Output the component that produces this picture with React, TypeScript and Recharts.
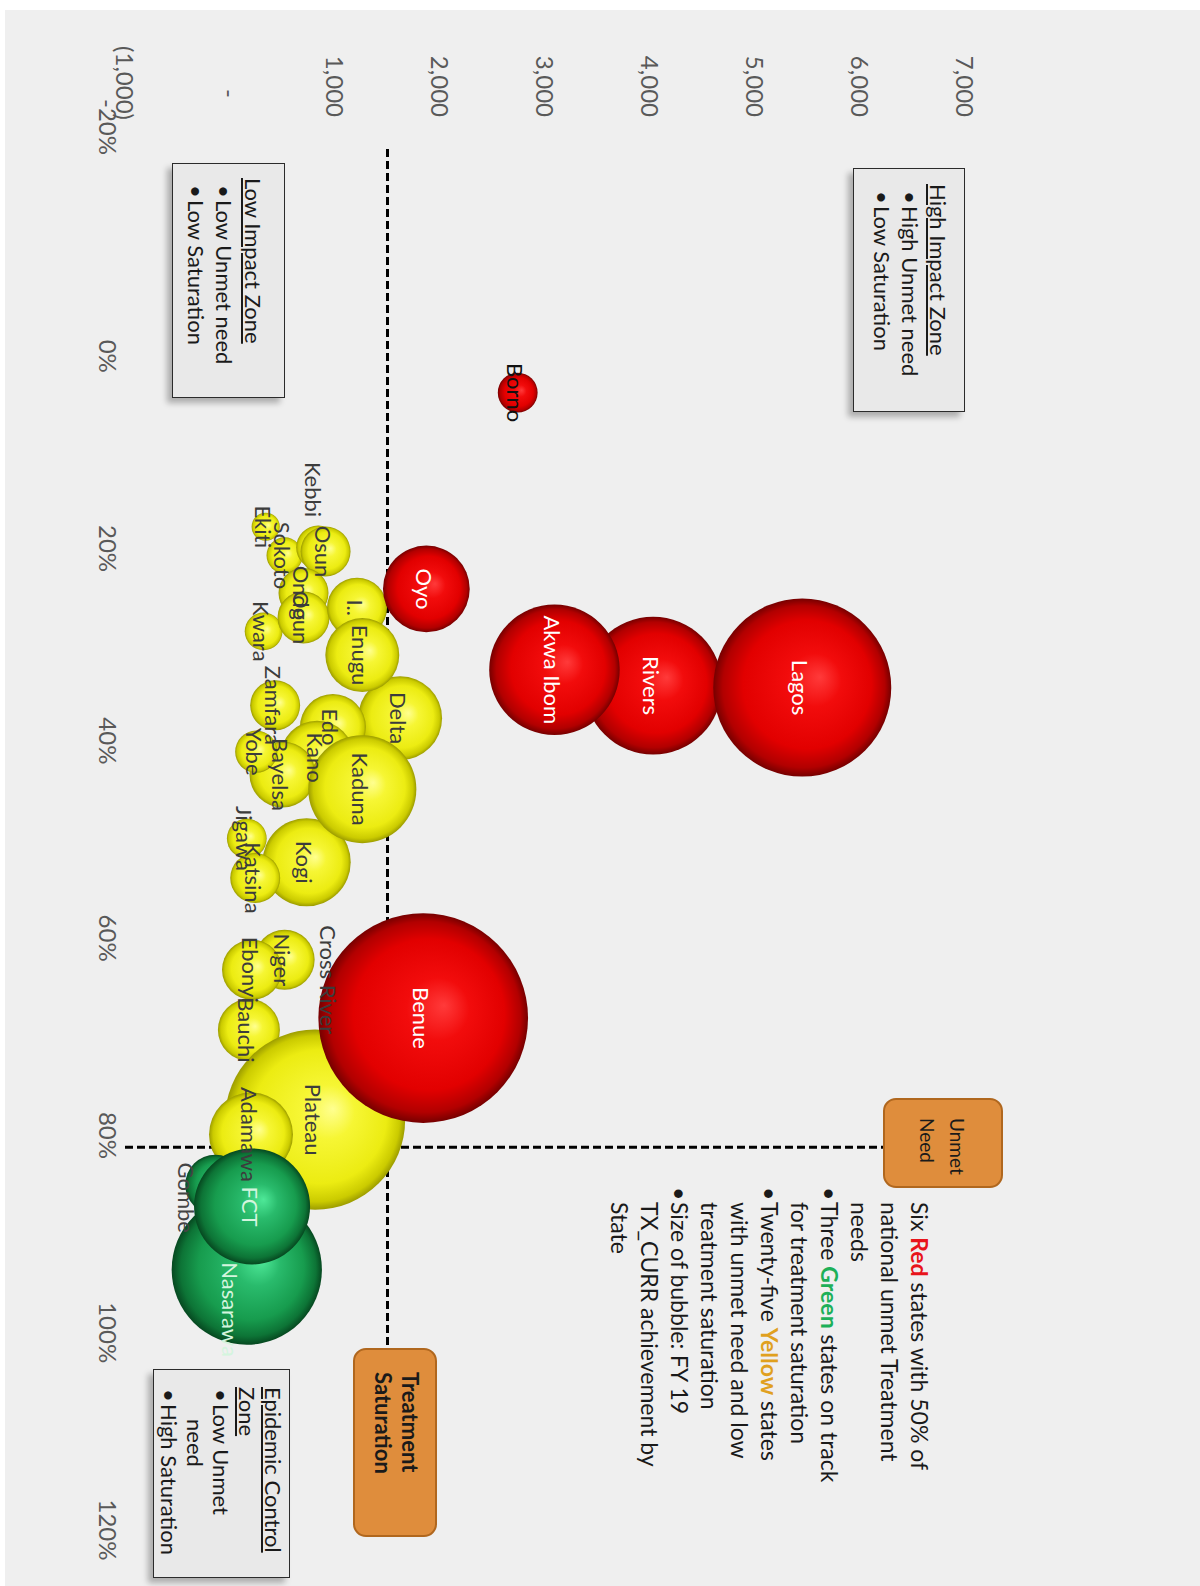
import React from 'react';
import { ScatterChart, Scatter, XAxis, YAxis, ZAxis, ReferenceLine } from 'recharts';

// ---------- data ----------
const RED_STATES = ['Borno', 'Lagos', 'Rivers', 'Akwa Ibom', 'Oyo', 'Benue'];
const RED_SATURATION = [4.7, 34.6, 34.4, 32.8, 24.6, 68.1];
const RED_UNMET = [2740, 5450, 4030, 3090, 1870, 1840];
const RED_TXCURR = [4000, 80000, 48000, 43000, 19000, 111000];

const YELLOW_STATES = ['Kebbi', 'Osun', 'Ekiti', 'Sokoto', 'Ondo', 'Ogun', 'Imo', 'Enugu', 'Kwara', 'Delta', 'Edo', 'Kano', 'Kaduna', 'Zamfara', 'Bayelsa', 'Yobe', 'Jigawa', 'Katsina', 'Kogi', 'Cross River', 'Niger', 'Ebonyi', 'Bauchi', 'Plateau', 'Adamawa'];
const YELLOW_SATURATION = [20.4, 20.8, 18.3, 21.2, 25.0, 27.5, 26.5, 31.3, 28.9, 37.7, 38.6, 41.7, 44.9, 36.4, 43.4, 41.1, 49.9, 53.9, 52.3, 62.4, 62.2, 63.2, 69.3, 78.4, 79.9];
const YELLOW_UNMET = [840, 910, 340, 520, 700, 700, 1210, 1260, 320, 1620, 980, 830, 1260, 430, 500, 250, 160, 240, 730, 540, 520, 210, 180, 810, 200];
const YELLOW_TXCURR = [4900, 6300, 2000, 3300, 6300, 6800, 9100, 13800, 3600, 17800, 11000, 13800, 29500, 6300, 11000, 4500, 4000, 6300, 19600, 5800, 9100, 9100, 9700, 82000, 17800];

const GREEN_STATES = ['FCT', 'Nasarawa', 'Gombe'];
const GREEN_SATURATION = [87.2, 93.6, 85.0];
const GREEN_UNMET = [210, 160, -140];
const GREEN_TXCURR = [34000, 57000, 9100];

const X_TICKS = [-20, 0, 20, 40, 60, 80, 100, 120];
const Y_TICKS = [-1000, 0, 1000, 2000, 3000, 4000, 5000, 6000, 7000];

const UNMET_THRESHOLD = 1500;      // horizontal quadrant line (unmet need)
const SATURATION_THRESHOLD = 81.2; // vertical quadrant line (saturation %)
const H_LINE_END = 101.3;
const V_LINE_END = 6220;

// back-to-front drawing order (layering)
const DRAW_ORDER = ['Ekiti', 'Sokoto', 'Kebbi', 'Osun', 'Kwara', 'Ondo', 'Ogun', 'Imo', 'Oyo', 'Delta', 'Enugu', 'Zamfara', 'Edo', 'Kano', 'Bayelsa', 'Yobe', 'Kogi', 'Kaduna', 'Jigawa', 'Katsina', 'Cross River', 'Bauchi', 'Plateau', 'Benue', 'Niger', 'Ebonyi', 'Adamawa', 'Gombe', 'Nasarawa', 'FCT', 'Borno', 'Rivers', 'Lagos', 'Akwa Ibom'];

// ---------- styles ----------
const LABEL_TEXT: Record<string, string> = { Imo: 'I..' };
const LABEL_OFFSET: Record<string, [number, number]> = {
  Kebbi: [-58, 3],
  'Cross River': [18, -44],
  Gombe: [13, 27],
  Nasarawa: [40, 14],
};
const LABEL_COLOR: Record<string, string> = { Borno: '#111', Gombe: '#444' };
const GROUP_STYLE: Record<string, { grad: string; label: string }> = {
  red: { grad: 'gradRed', label: '#ffffff' },
  yellow: { grad: 'gradYellow', label: '#3c3c3c' },
  green: { grad: 'gradGreen', label: '#d4f5de' },
};
const X_TICK_SHIFT: Record<number, number> = { [-20]: -22, 0: 10, 20: 5 };

type Pt = { name: string; group: string; x: number; y: number; z: number };
const build = (group: string, names: string[], xs: number[], ys: number[], zs: number[]): Pt[] =>
  names.map((name, i) => ({ name, group, x: xs[i], y: ys[i], z: zs[i] }));

const ALL: Pt[] = [
  ...build('red', RED_STATES, RED_SATURATION, RED_UNMET, RED_TXCURR),
  ...build('yellow', YELLOW_STATES, YELLOW_SATURATION, YELLOW_UNMET, YELLOW_TXCURR),
  ...build('green', GREEN_STATES, GREEN_SATURATION, GREEN_UNMET, GREEN_TXCURR),
];
const POINTS: Pt[] = DRAW_ORDER.map((n) => ALL.find((p) => p.name === n)!).filter(Boolean);

const MAX_R = 109;

const renderBubble = (props: any) => {
  const { cx, cy, payload } = props;
  const r = props.width != null ? props.width / 2 : Math.sqrt((props.size || 0) / Math.PI);
  const st = GROUP_STYLE[payload.group];
  return <circle cx={cx} cy={cy} r={r} fill={`url(#${st.grad})`} />;
};

const renderLabel = (props: any) => {
  const { cx, cy, payload } = props;
  const st = GROUP_STYLE[payload.group];
  const off = LABEL_OFFSET[payload.name] || [0, 0];
  const color = LABEL_COLOR[payload.name] || st.label;
  return (
    <text
      x={cx + off[0]}
      y={cy + off[1] + 2}
      textAnchor="middle"
      dominantBaseline="central"
      fontSize={22}
      fill={color}
    >
      {LABEL_TEXT[payload.name] ?? payload.name}
    </text>
  );
};

const fmt = (v: number) => v.toLocaleString('en-US');

const YTick = (props: any) => {
  const { x, y, payload } = props;
  const v = payload.value as number;
  const txt = v === 0 ? '-' : v < 0 ? `(${fmt(-v)})` : fmt(v);
  const xx = v === 0 ? x - 21 : v < 0 ? x + 1 : x - 2;
  return (
    <text x={xx} y={y} textAnchor="end" dominantBaseline="central" fill="#595959" fontSize={24}>
      {txt}
    </text>
  );
};

const XTick = (props: any) => {
  const { x, y, payload } = props;
  const v = payload.value as number;
  return (
    <text x={x + (X_TICK_SHIFT[v] || 0)} y={y} textAnchor="middle" dy="0.71em" fill="#595959" fontSize={24}>
      {`${v}%`}
    </text>
  );
};

const zoneBox = (left: number, top: number, width: number, height: number, pad: string, lh: number): React.CSSProperties => ({
  position: 'absolute',
  left,
  top,
  width,
  height,
  boxSizing: 'border-box',
  border: '1.5px solid #2b2b2b',
  background: '#e9e9e9',
  boxShadow: '5px 5px 6px rgba(0,0,0,0.28)',
  fontSize: 22,
  color: '#1a1a1a',
  lineHeight: `${lh}px`,
  padding: pad,
  whiteSpace: 'nowrap',
});

const orangeBox = (left: number, top: number, width: number, height: number): React.CSSProperties => ({
  position: 'absolute',
  left,
  top,
  width,
  height,
  boxSizing: 'border-box',
  background: '#DF8D3C',
  border: '2px solid #B0671E',
  borderRadius: 13,
  color: '#1a1a1a',
  whiteSpace: 'nowrap',
});

const Bullet = ({ children, indent = 7 }: { children: React.ReactNode; indent?: number }) => (
  <div>
    <span style={{ display: 'inline-block', width: 15, marginLeft: indent }}>•</span>
    {children}
  </div>
);

export default function App() {
  return (
    <div>
      <div style={{ position: 'absolute', left: 5, top: 10, width: 1195, height: 1576, background: '#efefef' }} />
      <svg width={0} height={0} style={{ position: 'absolute' }}>
        <defs>
          <radialGradient id="gradRed" cx="50%" cy="50%" r="50%" fx="44%" fy="40%">
            <stop offset="0%" stopColor="#ff3a3a" />
            <stop offset="30%" stopColor="#f20c0c" />
            <stop offset="72%" stopColor="#e20000" />
            <stop offset="91%" stopColor="#b20000" />
            <stop offset="100%" stopColor="#760000" />
          </radialGradient>
          <radialGradient id="gradYellow" cx="50%" cy="50%" r="50%" fx="44%" fy="40%">
            <stop offset="0%" stopColor="#ffff90" />
            <stop offset="30%" stopColor="#f6f634" />
            <stop offset="74%" stopColor="#ecec12" />
            <stop offset="92%" stopColor="#cbcb00" />
            <stop offset="100%" stopColor="#9c9c00" />
          </radialGradient>
          <radialGradient id="gradGreen" cx="50%" cy="50%" r="50%" fx="44%" fy="40%">
            <stop offset="0%" stopColor="#4ee898" />
            <stop offset="30%" stopColor="#29bb6c" />
            <stop offset="70%" stopColor="#179c4e" />
            <stop offset="90%" stopColor="#0d7436" />
            <stop offset="100%" stopColor="#064820" />
          </radialGradient>
        </defs>
      </svg>
      <div
        style={{
          position: 'absolute',
          left: 0,
          top: 0,
          width: 1586,
          height: 1200,
          transformOrigin: '0 0',
          transform: 'translate(1200px, 0) rotate(90deg)',
          fontFamily: "Lato, 'Open Sans', sans-serif",
        }}
      >
        <ScatterChart width={1586} height={1200} margin={{ top: 235, right: 56, bottom: 85, left: 49 }}>
          <XAxis
            type="number"
            dataKey="x"
            domain={[-20, 120]}
            ticks={X_TICKS}
            allowDataOverflow
            axisLine={false}
            tickLine={false}
            tickSize={0}
            tickMargin={9}
            height={40}
            tick={<XTick />}
          />
          <YAxis
            type="number"
            dataKey="y"
            domain={[-1000, 7000]}
            ticks={Y_TICKS}
            allowDataOverflow
            axisLine={false}
            tickLine={false}
            tickSize={0}
            tickMargin={30}
            width={100}
            tick={<YTick />}
          />
          <ZAxis type="number" dataKey="z" domain={[0, 120000]} range={[0, Math.PI * MAX_R * MAX_R]} />
          <ReferenceLine
            segment={[{ x: -20, y: UNMET_THRESHOLD }, { x: H_LINE_END, y: UNMET_THRESHOLD }]}
            stroke="#000"
            strokeWidth={3}
            strokeDasharray="8 4"
          />
          <ReferenceLine
            segment={[{ x: SATURATION_THRESHOLD, y: -1000 }, { x: SATURATION_THRESHOLD, y: V_LINE_END }]}
            stroke="#000"
            strokeWidth={3}
            strokeDasharray="8 4"
          />
          <Scatter data={POINTS} shape={renderBubble} isAnimationActive={false} />
          <Scatter data={POINTS} shape={renderLabel} isAnimationActive={false} />
        </ScatterChart>

        {/* High Impact Zone */}
        <div style={zoneBox(168, 235, 244, 112, '12px 0 0 15px', 28)}>
          <div style={{ textDecoration: 'underline' }}>High Impact Zone</div>
          <Bullet>High Unmet need</Bullet>
          <Bullet>Low Saturation</Bullet>
        </div>

        {/* Low Impact Zone */}
        <div style={zoneBox(163, 915, 235, 113, '17px 0 0 14px', 28.5)}>
          <div style={{ textDecoration: 'underline' }}>Low Impact Zone</div>
          <Bullet>Low Unmet need</Bullet>
          <Bullet>Low Saturation</Bullet>
        </div>

        {/* Epidemic Control Zone */}
        <div style={zoneBox(1369, 910, 209, 137, '3px 0 0 17px', 26)}>
          <div style={{ textDecoration: 'underline' }}>Epidemic Control</div>
          <div style={{ textDecoration: 'underline' }}>Zone</div>
          <Bullet indent={2}>Low Unmet</Bullet>
          <div style={{ paddingLeft: 32 }}>need</div>
          <Bullet indent={2}>High Saturation</Bullet>
        </div>

        {/* Treatment Saturation */}
        <div style={{ ...orangeBox(1348, 763, 189, 84), padding: '11px 0 0 22px', fontWeight: 700, fontSize: 22, lineHeight: '27px' }}>
          <div>Treatment</div>
          <div>Saturation</div>
        </div>

        {/* Unmet Need */}
        <div style={{ ...orangeBox(1098, 197, 90, 120), padding: '29px 0 0 18px', fontSize: 19, lineHeight: '30px' }}>
          <div>Unmet</div>
          <div>Need</div>
        </div>

        {/* Notes */}
        <div style={{ position: 'absolute', left: 1187, top: 265, fontSize: 23, lineHeight: '30px', color: '#1a1a1a', whiteSpace: 'nowrap' }}>
          <div style={{ paddingLeft: 15 }}>
            Six <b style={{ color: '#E8141B' }}>Red</b> states with 50% of
          </div>
          <div style={{ paddingLeft: 15 }}>national unmet Treatment</div>
          <div style={{ paddingLeft: 15 }}>needs</div>
          <Bullet indent={0}>
            Three <b style={{ color: '#1DB058' }}>Green</b> states on track
          </Bullet>
          <div style={{ paddingLeft: 15 }}>for treatment saturation</div>
          <Bullet indent={0}>
            Twenty-five <b style={{ color: '#E0A01E' }}>Yellow</b> states
          </Bullet>
          <div style={{ paddingLeft: 15 }}>with unmet need and low</div>
          <div style={{ paddingLeft: 15 }}>treatment saturation</div>
          <Bullet indent={0}>Size of bubble: FY 19</Bullet>
          <div style={{ paddingLeft: 15 }}>TX_CURR achievement by</div>
          <div style={{ paddingLeft: 15 }}>State</div>
        </div>
      </div>
    </div>
  );
}
